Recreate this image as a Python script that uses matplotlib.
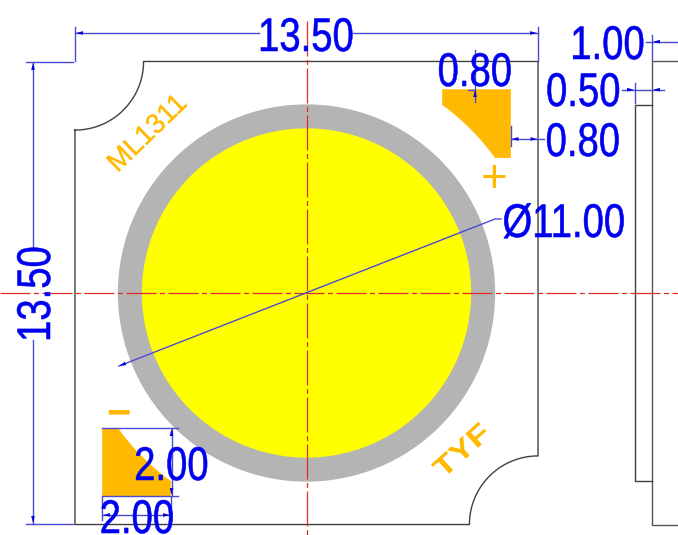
import numpy as np
import matplotlib
matplotlib.use("Agg")
import matplotlib.pyplot as plt
from matplotlib.patches import Circle, Polygon
from matplotlib.patheffects import AbstractPathEffect
from matplotlib.transforms import Affine2D

# everything in mm, origin at the centre of the chip
board_size = 13.5
corner_radius = 2.0
led_outer_dia = 11.0
led_inner_dia = 9.6
pad_size = 2.0
pad_arc_radius = 6.76
side_offsets = [1.0, 0.5]
dim_labels = ["13.50", "13.50", "Ø11.00", "1.00", "0.50", "0.80", "0.80", "2.00", "2.00"]

# picture scale
px_per_mm = 34.3
center_px = (306.5, 293.0)
W, H = 678, 535


def X(px):
    return (px - center_px[0]) / px_per_mm


def Y(px):
    return (center_px[1] - px) / px_per_mm


BLUE = "#0000f0"
DIM = "#4a4ad2"
ORANGE = "#ffb900"
OUT = "#404040"
RED = "#e22a2a"


class Squeeze(AbstractPathEffect):
    # the CAD text is narrower/wider than any font here, scale the glyphs along the baseline
    def __init__(self, sx, stroke=0.0):
        super().__init__()
        self.sx = sx
        self.stroke = stroke

    def draw_path(self, renderer, gc, tpath, affine, rgbFace=None):
        xc = tpath.get_extents().x0 + tpath.get_extents().width / 2
        tr = Affine2D().translate(-xc, 0).scale(self.sx, 1).translate(xc, 0) + affine
        gc0 = renderer.new_gc()
        gc0.copy_properties(gc)
        gc0.set_linewidth(self.stroke)
        gc0.set_foreground(rgbFace)
        renderer.draw_path(gc0, tpath, tr, rgbFace)
        gc0.restore()


fig = plt.figure(figsize=(W / 100, H / 100), dpi=100)
ax = fig.add_axes([0, 0, 1, 1])
ax.set_xlim(X(0), X(W))
ax.set_ylim(Y(H), Y(0))
ax.axis("off")

half = board_size / 2

# LED
ax.add_patch(Circle((0, 0), led_outer_dia / 2, fc="#b4b4b4", ec="none", zorder=1))
ax.add_patch(Circle((0, 0), led_inner_dia / 2, fc="#ffff00", ec="none", zorder=2))

# board outline with the two cut corners
t = np.linspace(0, np.pi / 2, 40)
tl_x = -half + corner_radius * np.sin(t)
tl_y = half - corner_radius * np.cos(t)
br_x = half - corner_radius * np.sin(t)
br_y = -half + corner_radius * np.cos(t)
out_x = np.r_[tl_x, half, br_x, -half, tl_x[0]]
out_y = np.r_[tl_y, half, br_y, -half, tl_y[0]]
ax.plot(out_x, out_y, color=OUT, lw=1.0, zorder=3)

# side view
sx = X(652)
inner = sx - side_offsets[1]
ax.plot([X(W), sx, sx, X(W)], [half, half, -half, -half], color="#555555", lw=1.0, zorder=3)
ax.plot([sx, inner, inner, sx], [Y(105), Y(105), Y(481), Y(481)], color=OUT, lw=1.0, zorder=3)


# pads, inner edge is an arc around the LED centre
def pad_points(sign):
    right, top = X(510.8), Y(89.3)
    x0 = right - pad_size
    y1 = top - pad_size
    y0 = np.sqrt(pad_arc_radius ** 2 - x0 ** 2)
    x1 = np.sqrt(pad_arc_radius ** 2 - y1 ** 2)
    a = np.linspace(np.arctan2(y1, x1), np.arctan2(y0, x0), 30)
    xs = np.r_[x0, right, right, pad_arc_radius * np.cos(a)]
    ys = np.r_[top, top, y1, pad_arc_radius * np.sin(a)]
    return np.c_[sign * xs, sign * ys]


ax.add_patch(Polygon(pad_points(1), fc=ORANGE, ec="none", zorder=2))
ax.add_patch(Polygon(pad_points(-1), fc=ORANGE, ec="none", zorder=2))

# centre lines, 30px dash, 5px dot, 3.5px gaps
lw_c = 0.9
pattern = tuple(v * 0.72 / lw_c for v in (30, 3.5, 5, 3.5))
ax.plot([X(0), X(W)], [0, 0], color=RED, lw=lw_c, ls=(0, pattern), zorder=4)
ax.plot([0, 0], [Y(21), Y(535)], color=RED, lw=lw_c, ls=(0, tuple(v * 0.72 / lw_c for v in (35, 3.5, 5, 3.5))), zorder=4)


def dim_line(xs, ys):
    ax.plot([X(v) for v in xs], [Y(v) for v in ys], color=DIM, lw=1.0, zorder=5)


def arrow(px, py, dx, dy):
    # little filled dimension arrow, tip at px,py
    n = np.array([-dy, dx])
    tip = np.array([px, py])
    back = tip - 7 * np.array([dx, dy])
    pts = [tip, back + 1.8 * n, back - 1.8 * n]
    ax.add_patch(Polygon([(X(p[0]), Y(p[1])) for p in pts], fc="#0000e0", ec="none", zorder=5))


# 13.50 top
dim_line([75, 75], [27, 61])
dim_line([538, 538], [27, 61])
dim_line([75, 259], [33, 33])
dim_line([353, 538], [33, 33])
arrow(76, 33, -1, 0)
arrow(537, 33, 1, 0)
# 13.50 left
dim_line([26, 73], [62, 62])
dim_line([26, 73], [524, 524])
dim_line([33, 33], [62, 250])
dim_line([33, 33], [340, 524])
arrow(33, 63, 0, -1)
arrow(33, 523, 0, 1)
# diameter, with the short knee at the text
dim_line([119, 495, 501], [366, 219, 219])
arrow(119, 366, -0.93, 0.36)
# 1.00
dim_line([652, 652], [35, 60])
dim_line([646, W], [41.7, 41.7])
arrow(653, 41.7, -1, 0)
# 0.50
dim_line([634.5, 634.5], [83, 103])
dim_line([622, 664], [89.7, 89.7])
arrow(634, 89.7, 1, 0)
arrow(653, 89.7, -1, 0)
# 0.80 right
dim_line([510.8, 510.8], [126, 146])
dim_line([511, 544], [139, 139])
arrow(511.5, 139, -1, 0)
arrow(537.5, 139, 1, 0)
# 0.80 top
dim_line([475, 475], [50, 102])
dim_line([468, 475], [89.5, 89.5])
arrow(475, 90, 0, -1)
# 2.00 side
dim_line([102, 178], [428, 428])
dim_line([102, 178], [496, 496])
dim_line([171.5, 171.5], [428, 496])
arrow(171.5, 429, 0, -1)
arrow(171.5, 495, 0, 1)
# 2.00 bottom
dim_line([102, 102], [497, 520])
dim_line([171, 171], [497, 520])
dim_line([102, 171], [515, 515])
arrow(103, 515, -1, 0)
arrow(170, 515, 1, 0)

# text anchors: middle of the digits along the baseline, and the baseline itself
text_pos = [
    (306, 51, 0),
    (50, 294, 90),
    (564, 237, 0),
    (607.5, 59, 0),
    (583.5, 106, 0),
    (583, 156, 0),
    (475, 86, 0),
    (171.5, 480, 0),
    (137, 533, 0),
]
for label, (px, py, rot) in zip(dim_labels, text_pos):
    ax.text(X(px), Y(py), label, color=BLUE, fontsize=34, family="Liberation Sans",
            ha="center", va="baseline", rotation=rot, rotation_mode="anchor", zorder=6,
            path_effects=[Squeeze(0.81, 0.4)])

# silk print
ax.text(X(148), Y(134), "ML1311", color=ORANGE, fontsize=20, family="Liberation Sans",
        rotation=44, ha="center", va="center", zorder=3, path_effects=[Squeeze(1.0, 0.3)])
ax.text(X(463), Y(452), "TYF", color=ORANGE, fontsize=20, family="Liberation Sans",
        weight="bold", rotation=42, ha="center", va="center", zorder=3,
        path_effects=[Squeeze(1.25, 0.0)])
ax.text(X(494), Y(180), "+", color=ORANGE, fontsize=33, family="Liberation Sans",
        ha="center", va="center", zorder=3)
ax.text(X(118), Y(414), "−", color=ORANGE, fontsize=30, family="Liberation Sans",
        weight="bold", ha="center", va="center", zorder=3)

fig.savefig("out.png", dpi=100)
